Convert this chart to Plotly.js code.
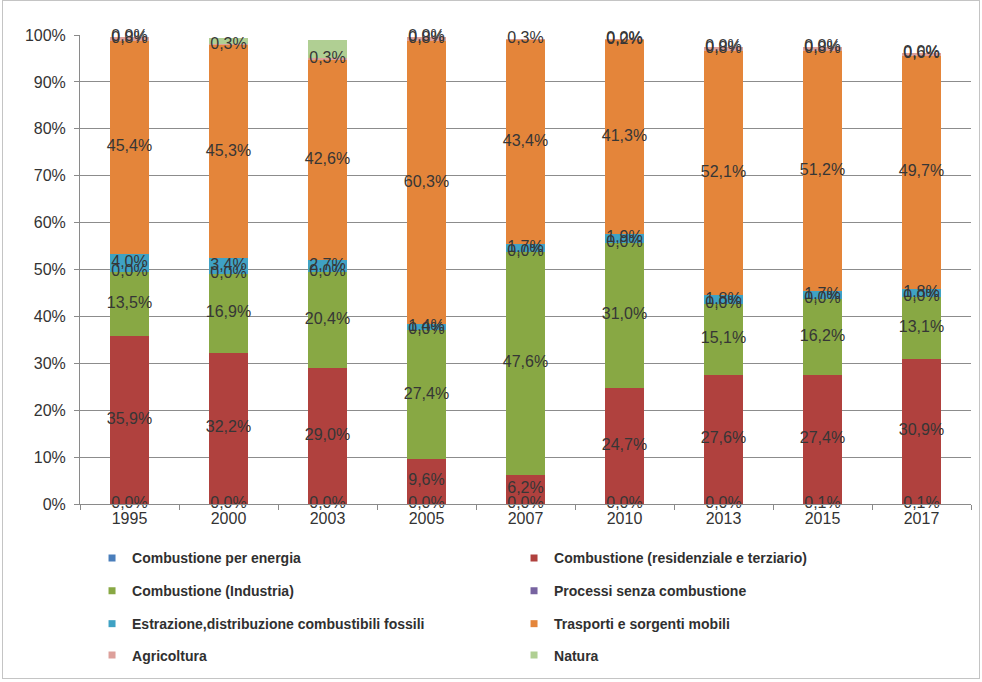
<!DOCTYPE html>
<html>
<head>
<meta charset="utf-8">
<script src="https://cdn.plot.ly/plotly-3.0.1.min.js"></script>
<style>
  html, body { margin: 0; padding: 0; background: #fff; }
  #chart { position: absolute; left: 0; top: 0; width: 982px; height: 682px; }
  #frame { position: absolute; left: 2px; top: 0px; width: 978px; height: 679px; border: 1px solid #c4c4c4; box-sizing: border-box; pointer-events: none; }
</style>
</head>
<body>
<div id="chart"></div>
<div id="frame"></div>
<script>
// ---- data (percent shares) ----
const years = ['1995', '2000', '2003', '2005', '2007', '2010', '2013', '2015', '2017'];
const seriesNames = [
  'Combustione per energia',
  'Combustione (residenziale e terziario)',
  'Combustione (Industria)',
  'Processi senza combustione',
  'Estrazione,distribuzione combustibili fossili',
  'Trasporti e sorgenti mobili',
  'Agricoltura',
  'Natura'
];
const energia      = [0.0, 0.0, 0.0, 0.0, 0.0, 0.0, 0.0, 0.1, 0.1];
const residenziale = [35.9, 32.2, 29.0, 9.6, 6.2, 24.7, 27.6, 27.4, 30.9];
const industria    = [13.5, 16.9, 20.4, 27.4, 47.6, 31.0, 15.1, 16.2, 13.1];
const processi     = [0.0, 0.0, 0.0, 0.0, 0.0, 0.0, 0.0, 0.0, 0.0];
const estrazione   = [4.0, 3.4, 2.7, 1.4, 1.7, 1.9, 1.8, 1.7, 1.8];
const trasporti    = [45.4, 45.3, 42.6, 60.3, 43.4, 41.3, 52.1, 51.2, 49.7];
const agricoltura  = [0.8, 0.3, 0.3, 0.8, 0.3, 0.2, 0.8, 0.8, 0.6];
const natura       = [0.0, 1.3, 3.9, 0.0, 0.0, 0.0, 0.0, 0.0, 0.0];
// which data labels are shown in the original (natura labels are missing for some years)
const naturaLabelShown = [true, false, false, true, false, true, true, true, true];

const allSeries = [energia, residenziale, industria, processi, estrazione, trasporti, agricoltura, natura];
const colors = ['#4A7EBB', '#B0413E', '#88A844', '#7763A0', '#3FA2C4', '#E4853A', '#DDA09B', '#B0CF93'];

const fmt = v => v.toFixed(1).replace('.', ',') + '%';

const traces = [];
const labelTraces = [];
const base = years.map(() => 0);
allSeries.forEach((vals, i) => {
  traces.push({
    type: 'bar', x: years, y: vals, name: seriesNames[i],
    marker: { color: colors[i], line: { width: 0 } },
    showlegend: false, hoverinfo: 'name+y'
  });
  const mids = vals.map((v, j) => base[j] + v / 2);
  const texts = vals.map((v, j) => (i === 7 && !naturaLabelShown[j]) ? '' : fmt(v));
  labelTraces.push({
    type: 'scatter', mode: 'text', x: years, y: mids, text: texts,
    textposition: 'middle center',
    textfont: { family: 'Liberation Sans, Arial, sans-serif', size: 16, color: '#363636' },
    showlegend: false, hoverinfo: 'skip', cliponaxis: false
  });
  vals.forEach((v, j) => { base[j] += v; });
});

// legend entries (small square markers), two per row in four rows
const legendIds = ['legend', 'legend', 'legend2', 'legend2', 'legend3', 'legend3', 'legend4', 'legend4'];
const legendTraces = seriesNames.map((n, i) => ({
  type: 'scatter', mode: 'markers', x: [null], y: [null], name: n,
  marker: { symbol: 'square', size: 7, color: colors[i] },
  legend: legendIds[i], showlegend: true, hoverinfo: 'skip'
}));

const legFont = { family: 'Liberation Sans, Arial, sans-serif', size: 14, color: '#303030', weight: 'bold' };
const legRowY = [-0.116, -0.186, -0.256, -0.323];
function mkLegend(y) {
  return {
    orientation: 'h', x: 0.0135, xanchor: 'left', y: y, yanchor: 'middle',
    entrywidth: 377, entrywidthmode: 'pixels', itemwidth: 30,
    font: legFont, bgcolor: 'rgba(0,0,0,0)', borderwidth: 0,
    traceorder: 'normal', itemclick: false, itemdoubleclick: false
  };
}

const layout = {
  width: 982, height: 682,
  margin: { l: 80, r: 11, t: 35, b: 174 },
  paper_bgcolor: '#ffffff', plot_bgcolor: '#ffffff',
  barmode: 'stack', bargap: 0.6,
  separators: ',.',
  showlegend: true,
  legend: mkLegend(legRowY[0]),
  legend2: mkLegend(legRowY[1]),
  legend3: mkLegend(legRowY[2]),
  legend4: mkLegend(legRowY[3]),
  xaxis: {
    type: 'category', categoryorder: 'array', categoryarray: years,
    showgrid: false, zeroline: false,
    showline: true, linecolor: '#8a8a8a', linewidth: 1,
    ticks: 'outside', tickson: 'boundaries', ticklen: 5, tickcolor: '#8a8a8a',
    tickfont: { family: 'Liberation Sans Narrow, Liberation Sans, Arial, sans-serif', size: 16, color: '#333333' },
    fixedrange: true
  },
  yaxis: {
    range: [0, 100], dtick: 10, tick0: 0, ticksuffix: '%',
    showgrid: true, gridcolor: '#8c8c8c', gridwidth: 1,
    zeroline: false,
    showline: true, linecolor: '#8a8a8a', linewidth: 1,
    ticks: 'outside', ticklen: 5, tickcolor: '#8a8a8a', ticklabelstandoff: 5,
    tickfont: { family: 'Liberation Sans, Arial, sans-serif', size: 16, color: '#333333' },
    fixedrange: true
  }
};

Plotly.newPlot('chart', traces.concat(labelTraces, legendTraces), layout, { displayModeBar: false, staticPlot: true });
</script>
</body>
</html>
